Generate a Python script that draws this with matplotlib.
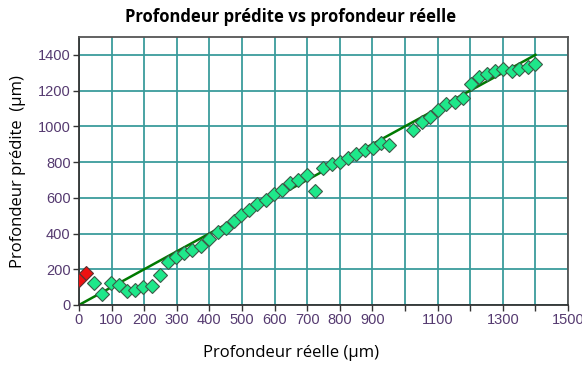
# Predicted vs measured depth

import numpy as np
import matplotlib.pyplot as plt

# measured depth (um) and predicted depth (um)
reelle = [45, 72, 97, 122, 147, 172, 197, 223, 248, 272, 298, 323, 348, 373,
          400, 425, 450, 474, 498, 522, 547, 573, 598, 623, 648, 673, 698,
          723, 749, 775, 800, 826, 851, 877, 902, 926, 951, 1026, 1051, 1077,
          1102, 1127, 1152, 1178, 1202, 1227, 1252, 1276, 1302, 1327, 1351,
          1376, 1400]
predite = [121, 61, 121, 112, 78, 84, 99, 108, 168, 242, 270, 291, 309, 330,
           370, 410, 430, 472, 505, 531, 565, 589, 619, 644, 685, 702, 726,
           639, 767, 791, 801, 823, 844, 866, 879, 907, 898, 980, 1024, 1052,
           1089, 1123, 1136, 1158, 1238, 1276, 1294, 1309, 1322, 1307, 1322,
           1331, 1350]

# points flagged in red
reelle_rouge = [0, 22]
predite_rouge = [140, 181]

# trend line
ligne_x = [0, 1400]
ligne_y = [0, 1400]

xticks = [0, 100, 200, 300, 400, 500, 600, 700, 800, 900, 1000, 1100, 1200,
          1300, 1400, 1500]
xtick_labels = ['0', '100', '200', '300', '400', '500', '600', '700', '800',
                '900', '', '1100', '', '1300', '', '1500']
yticks = [0, 200, 400, 600, 800, 1000, 1200, 1400]

fig = plt.figure(figsize=(5.82, 3.68), dpi=100)
ax = fig.add_axes([0.1357, 0.1712, 0.8403, 0.7283])

ax.plot(ligne_x, ligne_y, color='#007a00', lw=1.8, zorder=2)
ax.plot(reelle, predite, 'D', ms=7.5, mfc='#1ee88a', mec='#3c5a48', mew=0.8,
        zorder=3)
ax.plot(reelle_rouge, predite_rouge, 'D', ms=7.5, mfc='#ee1111', mec='#5a3030',
        mew=0.8, zorder=3)

ax.set_xlim(0, 1500)
ax.set_ylim(0, 1500)
ax.set_xticks(xticks)
ax.set_xticklabels(xtick_labels)
ax.set_yticks(yticks)
ax.grid(True, color='#3a9c9c', lw=1.3)
ax.set_axisbelow(True)

for s in ax.spines.values():
    s.set_color('#555555')
    s.set_linewidth(1.3)
ax.spines['left'].set_color('#333333')
ax.spines['bottom'].set_color('#333333')

ax.tick_params(length=4, width=1, color='#333333', labelsize=10.5,
               labelcolor='#553a70', pad=2)
for lab in ax.get_xticklabels() + ax.get_yticklabels():
    lab.set_family('Liberation Sans')

fig.text(0.5, 0.953, 'Profondeur prédite vs profondeur réelle',
         ha='center', va='center', fontsize=12, fontweight='bold',
         family='Open Sans')
fig.text(0.5, 0.04, 'Profondeur réelle (µm)', ha='center', va='center',
         fontsize=12, family='Open Sans')
fig.text(0.031, 0.535, 'Profondeur prédite  (µm)', ha='center', va='center',
         rotation=90, fontsize=12, family='Open Sans')

fig.savefig('out.png', dpi=100)
